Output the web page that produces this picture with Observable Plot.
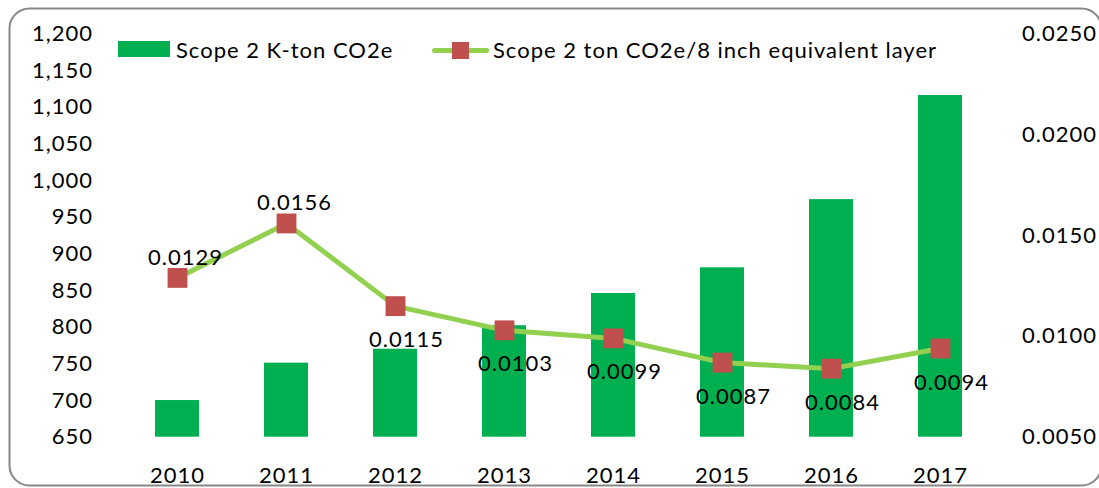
<!DOCTYPE html>
<html>
<head>
<meta charset="utf-8">
<script src="https://cdn.jsdelivr.net/npm/d3@7"></script>
<script src="https://cdn.jsdelivr.net/npm/@observablehq/plot@0.6"></script>
<style>
  html, body { margin: 0; padding: 0; background: #fff; }
  #wrap { position: relative; width: 1099px; height: 488px; overflow: hidden; font-family: Lato, "Open Sans", sans-serif; }
  #chart svg text { letter-spacing: 1px; }
  .legtext { position: absolute; font-size: 22px; letter-spacing: 1px; line-height: 1; color: #000; white-space: nowrap; transform: translateY(-50%); }
  .abs { position: absolute; }
</style>
</head>
<body>
<div id="wrap">
  <div id="chart"></div>
  <div id="legend"></div>
</div>
<script>
// ---- data ----
const years = ["2010", "2011", "2012", "2013", "2014", "2015", "2016", "2017"];
const scope2Kton = [700, 751, 770, 802, 846, 881, 974, 1116];
const tonPerLayer = [0.0129, 0.0156, 0.0115, 0.0103, 0.0099, 0.0087, 0.0084, 0.0094];
const leftTicks = [650, 700, 750, 800, 850, 900, 950, 1000, 1050, 1100, 1150, 1200];
const rightTicks = [0.005, 0.01, 0.015, 0.02, 0.025];
const labelAbove = [true, true, false, false, false, false, false, false];
const seriesNames = ["Scope 2 K-ton CO2e", "Scope 2 ton CO2e/8 inch equivalent layer"];

// ---- scales mapping for secondary axis ----
const leftDomain = [650, 1200];
const rightDomain = [0.005, 0.025];
const toLeft = v => leftDomain[0] + (v - rightDomain[0]) / (rightDomain[1] - rightDomain[0]) * (leftDomain[1] - leftDomain[0]);
const toRight = v => rightDomain[0] + (v - leftDomain[0]) / (leftDomain[1] - leftDomain[0]) * (rightDomain[1] - rightDomain[0]);

const rows = years.map((year, i) => ({year, kton: scope2Kton[i], ratio: tonPerLayer[i], above: labelAbove[i]}));

const barColor = "#00B050", lineColor = "#92D050", markerColor = "#C0504D";

const ML = 122.5, MR = 104.5, MT = 33.4, MB = 51.3, W = 1099, H = 488;

const chart = Plot.plot({
  width: W, height: H,
  marginLeft: ML, marginRight: MR, marginTop: MT, marginBottom: MB,
  style: {fontFamily: "Lato, 'Open Sans', sans-serif", fontSize: "22px", color: "#000", background: "#fff", overflow: "visible"},
  x: {domain: years, paddingInner: 0.6, paddingOuter: 0.3, axis: null},
  y: {domain: leftDomain, axis: null},
  marks: [
    Plot.frame({stroke: "#878787", strokeWidth: 2, rx: 20, ry: 20,
      insetLeft: -(ML - 9), insetTop: -(MT - 8), insetRight: -(MR + 2), insetBottom: -(MB - 3)}),
    Plot.barY(rows, {x: "year", y1: leftDomain[0], y2: "kton", fill: barColor}),
    Plot.line(rows, {x: "year", y: d => toLeft(d.ratio), stroke: lineColor, strokeWidth: 5}),
    Plot.dot(rows, {x: "year", y: d => toLeft(d.ratio), symbol: "square", r: 11.2, fill: markerColor, stroke: "none"}),
    Plot.text(rows.filter(d => d.above), {x: "year", y: d => toLeft(d.ratio), text: d => d.ratio.toFixed(4), dy: -20, dx: 8, fill: "#000", fontSize: 22}),
    Plot.text(rows.filter(d => !d.above), {x: "year", y: d => toLeft(d.ratio), text: d => d.ratio.toFixed(4), dy: 34, dx: 11, fill: "#000", fontSize: 22}),
    Plot.axisY({ticks: leftTicks, tickFormat: d3.format(","), tickSize: 0, tickPadding: 30, label: null}),
    Plot.axisY({anchor: "right", ticks: rightTicks.map(toLeft), tickFormat: v => toRight(v).toFixed(4), tickSize: 0, tickPadding: 27, label: null}),
    Plot.axisX({tickSize: 0, tickPadding: 30, label: null})
  ]
});
document.getElementById("chart").appendChild(chart);

// ---- legend (overlay inside the chart area) ----
const leg = document.getElementById("legend");
leg.innerHTML = `
  <div class="abs" style="left:118px;top:41px;width:52px;height:16px;background:${barColor}"></div>
  <div class="legtext" style="left:176px;top:50px">${seriesNames[0]}</div>
  <div class="abs" style="left:432px;top:47.5px;width:57px;height:5px;border-radius:2.5px;background:${lineColor}"></div>
  <div class="abs" style="left:451.5px;top:41.5px;width:17px;height:17px;background:${markerColor}"></div>
  <div class="legtext" style="left:493px;top:50px">${seriesNames[1]}</div>
`;
</script>
</body>
</html>
